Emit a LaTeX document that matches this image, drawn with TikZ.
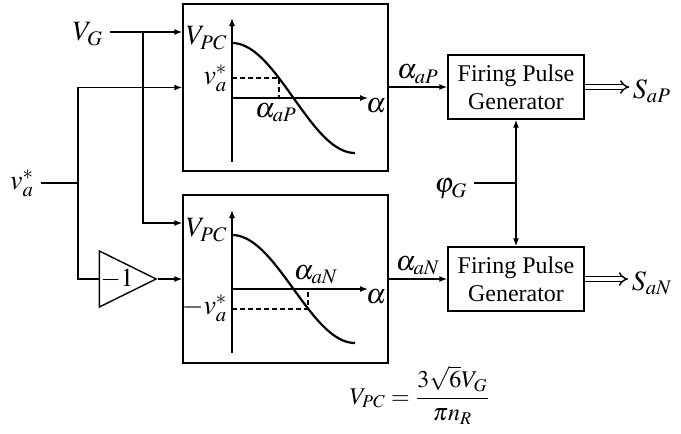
\documentclass[tikz,border=0pt]{standalone}
\usepackage{amsmath}
\usepackage{mathptmx}
\usepackage{fontspec}
\setmainfont{Liberation Serif}
\usetikzlibrary{positioning,arrows.meta,shapes.geometric}

\begin{document}
\begin{tikzpicture}[x=0.5pt,y=-0.5pt,line width=0.7pt,>={Latex[length=4pt,width=3pt]},
    every node/.style={font=\fontsize{12}{14}\selectfont},
    lbl/.style={font=\fontsize{14}{16}\selectfont,inner sep=1.5pt},
    blk/.style={draw,inner sep=0pt},
    curve/.style={line width=1.1pt},
    guide/.style={dash pattern=on 2.5pt off 1.5pt,line width=0.6pt}]
    \useasboundingbox (0,0) rectangle (681,434);

    % blocks
    \node[blk,minimum width=102.5pt,minimum height=83.5pt] (ctop) at (285.5,87.5) {};
    \node[blk,minimum width=102.5pt,minimum height=84pt] (cbot) at (285.5,279) {};
    \node[blk,minimum width=68pt,minimum height=32pt,align=center] (fpgP) at (516,87) {Firing Pulse\\Generator};
    \node[blk,minimum width=68pt,minimum height=32pt,align=center] (fpgN) at (516,279) {Firing Pulse\\Generator};
    \node[draw,isosceles triangle,isosceles triangle stretches,minimum width=28pt,minimum height=26.5pt,
        inner sep=0pt,anchor=apex,font=\fontsize{13}{15}\selectfont] (gain) at (158,279) {$-1$};

    % inputs
    \node[lbl,inner sep=3pt] (vg) at (88,34) {$V_G$};
    \node[lbl,inner sep=3pt] (va) at (22,183) {$v_a^*$};
    \node[lbl,inner sep=3pt] (phig) at (451,189) {$\varphi_G$};
    \coordinate (vgb) at (143,32);
    \coordinate (vab) at (78,183);
    \coordinate (pj) at (516,183);

    \draw[->] (vg.east |- vgb) -- (ctop.west |- vgb);
    \draw[->] (vgb) |- ([yshift=28pt]cbot.west);
    \draw (va.east) -- (vab);
    \draw[->] (vab) |- (ctop.west);
    \draw (vab) |- (gain.west);
    \draw[->] (gain.apex) -- (cbot.west);

    % outputs
    \draw[->] (fpgP.west -| ctop.east) -- node[lbl,above] (alP) {$\alpha_{aP}$} (fpgP.west);
    \draw[->] (fpgN.west -| cbot.east) -- node[lbl,above] (alN) {$\alpha_{aN}$} (fpgN.west);
    \node[lbl] (saP) at (652,91) {$S_{aP}$};
    \node[lbl] (saN) at (652,283) {$S_{aN}$};
    \draw[double,double distance=1.6pt,-{Implies}] (fpgP.east) -- (fpgP.east -| saP.west);
    \draw[double,double distance=1.6pt,-{Implies}] (fpgN.east) -- (fpgN.east -| saN.west);
    \draw (phig.east |- pj) -- (pj);
    \draw[->] (pj) -- (fpgP.south);
    \draw[->] (pj) -- (fpgN.north);

    % upper curve
    \draw[->] (232,162) -- (232,18);
    \draw[->] (232,98) -- (368,98);
    \draw[curve] plot[domain=0:123,samples=40] ({232+\x},{98-55*cos(\x/123*180)});
    \draw[guide] (232,78) -| (279,98);
    \node[lbl,anchor=east] (vpcP) at (231,38) {$V_{PC}$};
    \node[lbl,anchor=east] (vaP) at (231,78) {$v_a^*$};
    \node[lbl] (aP) at (276,113) {$\alpha_{aP}$};
    \node[lbl] (axP) at (376,106) {$\alpha$};

    % lower curve
    \draw[->] (232,353) -- (232,210);
    \draw[->] (232,289) -- (368,289);
    \draw[curve] plot[domain=0:123,samples=40] ({232+\x},{289-54*cos(\x/123*180)});
    \draw[guide] (232,309) -| (308,289);
    \node[lbl,anchor=east] (vpcN) at (231,230) {$V_{PC}$};
    \node[lbl,anchor=east] (vaN) at (231,308) {$-v_a^*$};
    \node[lbl] (aN) at (316,275) {$\alpha_{aN}$};
    \node[lbl] (axN) at (376,297) {$\alpha$};

    \node (vpc) at (420,395) {$V_{PC}=\dfrac{3\sqrt{6}V_G}{\pi n_R}$};
\end{tikzpicture}
\end{document}
